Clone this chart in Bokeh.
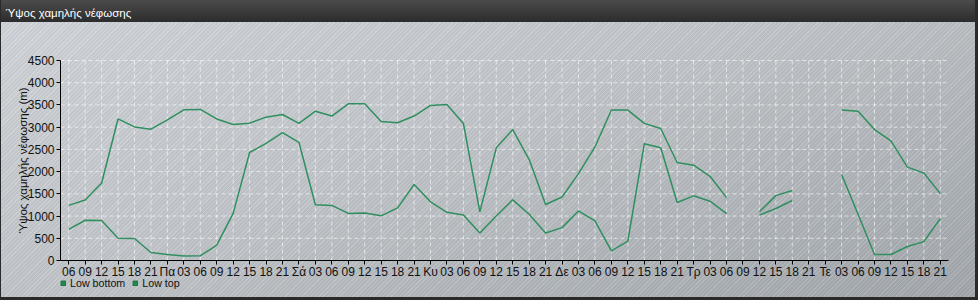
import numpy as np
from bokeh.plotting import figure
from bokeh.models import (FixedTicker, Legend, LegendItem, ColumnDataSource,
                          InlineStyleSheet, Label)
from bokeh.embed import file_html
from bokeh.resources import INLINE

# ---------------- data ----------------
tick_labels = ["06", "09", "12", "15", "18", "21",
               "Πα", "03", "06", "09", "12", "15", "18", "21",
               "Σά", "03", "06", "09", "12", "15", "18", "21",
               "Κυ", "03", "06", "09", "12", "15", "18", "21",
               "Δε", "03", "06", "09", "12", "15", "18", "21",
               "Τρ", "03", "06", "09", "12", "15", "18", "21",
               "Τε", "03", "06", "09", "12", "15", "18", "21"]

low_bottom = [700, 905, 900, 500, 495, 180, 135, 100, 105, 345,
              1060, 2430, 2635, 2875, 2660, 1255, 1240, 1060, 1070, 1005,
              1185, 1710, 1320, 1085, 1025, 620, 1000, 1365, 1040, 620,
              740, 1115, 890, 215, 435, 2625, 2535, 1305, 1455, 1335,
              1055, None, 1020, 1170, 1350, None, None, 1935, 1040, 135,
              135, 315, 425, 945]

low_top = [1240, 1360, 1745, 3185, 3005, 2955, 3165, 3390, 3400, 3185,
           3060, 3090, 3225, 3285, 3085, 3360, 3250, 3525, 3525, 3125,
           3100, 3250, 3490, 3510, 3085, 1095, 2535, 2945, 2270, 1260,
           1430, 1955, 2555, 3385, 3385, 3085, 2970, 2205, 2145, 1895,
           1415, None, 1095, 1460, 1575, None, None, 3385, 3360, 2945,
           2690, 2100, 1970, 1505]

y_ticks = [0, 500, 1000, 1500, 2000, 2500, 3000, 3500, 4000, 4500]
series_names = ["Low bottom", "Low top"]
title_text = "Ύψος χαμηλής νέφωσης"
y_label = "Ύψος χαμηλής νέφωσης (m)"

idx = list(range(len(tick_labels)))
bottom_arr = np.array([np.nan if v is None else v for v in low_bottom], dtype=float)
top_arr = np.array([np.nan if v is None else v for v in low_top], dtype=float)

# ---------------- layout constants (pixels) ----------------
W, H = 978, 300
PLOT_L, PLOT_R, PLOT_T, PLOT_B = 60, 948, 60, 260
X_LO, X_HI = -0.5, len(tick_labels) - 0.5
Y_LO, Y_HI = y_ticks[0], y_ticks[-1]
px_x = (PLOT_R - PLOT_L) / (X_HI - X_LO)
px_y = (PLOT_B - PLOT_T) / (Y_HI - Y_LO)
x_range = (X_LO - PLOT_L / px_x, X_HI + (W - PLOT_R) / px_x)
y_range = (Y_LO - (H - PLOT_B) / px_y, Y_HI + PLOT_T / px_y)

GREEN = "#2f8f5f"
SWATCH = "#1f8a4c"
FONT = "Liberation Sans"

p = figure(width=W, height=H, output_backend="svg", toolbar_location=None,
           x_range=x_range, y_range=y_range, min_border=0)
p.background_fill_alpha = 0
p.border_fill_alpha = 0
p.outline_line_color = None
p.grid.visible = False

css = """
:host {
  background:
    linear-gradient(to bottom, #4b4b4b 0px, #2c2c2c 22px, transparent 22px),
    repeating-linear-gradient(-45deg, rgba(255,255,255,0.08) 0px, rgba(255,255,255,0.08) 1px, rgba(0,0,0,0.04) 1px, rgba(0,0,0,0.04) 3px),
    linear-gradient(160deg, #d3d7db 0%, #c3c7cb 45%, #a3a8ad 100%);
  box-shadow: inset 1px 0 0 #2a2a2a, inset -3px 0 0 #2a2a2a, inset 0 -3px 0 #2a2a2a;
}
"""
p.stylesheets = [InlineStyleSheet(css=css)]

# ---------------- grid (dashed, limited to the plot area) ----------------
grid_v = ColumnDataSource(dict(x=idx, y0=[Y_LO] * len(idx), y1=[Y_HI] * len(idx)))
p.segment(x0="x", x1="x", y0="y0", y1="y1", source=grid_v,
          line_color="white", line_alpha=0.6, line_dash="4 3", line_width=1)
grid_h = ColumnDataSource(dict(y=y_ticks[1:], x0=[X_LO] * (len(y_ticks) - 1),
                               x1=[X_HI] * (len(y_ticks) - 1)))
p.segment(x0="x0", x1="x1", y0="y", y1="y", source=grid_h,
          line_color="white", line_alpha=0.6, line_dash="4 3", line_width=1)

# ---------------- series ----------------
src = ColumnDataSource(dict(x=idx, bottom=bottom_arr, top=top_arr))
p.line("x", "bottom", source=src, line_color=GREEN, line_width=1.5)
p.line("x", "top", source=src, line_color=GREEN, line_width=1.5)

# legend swatches (hidden renderers, only used for the legend)
r1 = p.vbar(x="x", top="bottom", width=0.5, source=src, fill_color=SWATCH,
            line_color="#16703c", visible=False)
r2 = p.vbar(x="x", top="top", width=0.5, source=src, fill_color=SWATCH,
            line_color="#16703c", visible=False)
legend = Legend(items=[LegendItem(label=series_names[0], renderers=[r1]),
                       LegendItem(label=series_names[1], renderers=[r2])],
                location=(PLOT_L, H - 290), orientation="horizontal",
                background_fill_alpha=0, border_line_color=None,
                inactive_fill_alpha=0,
                padding=0, margin=0, spacing=7,
                glyph_width=6, glyph_height=6, label_standoff=4,
                label_height=14, label_text_font=FONT,
                label_text_font_size="10.7px", label_text_color="#111111")
p.add_layout(legend, "center")

# ---------------- title ----------------
p.add_layout(Label(x=5, y=H - 12.5, x_units="screen", y_units="screen",
                   text=title_text, text_baseline="middle", text_align="left",
                   text_color="white", text_font=FONT, text_font_size="11.5px"))

# ---------------- axes ----------------
p.xaxis.fixed_location = Y_LO
p.yaxis.fixed_location = X_LO
p.xaxis.bounds = (X_LO, X_HI)
p.yaxis.bounds = (Y_LO, Y_HI)
p.xaxis.ticker = FixedTicker(ticks=idx)
p.xaxis.major_label_overrides = {i: lab for i, lab in enumerate(tick_labels)}
p.yaxis.ticker = FixedTicker(ticks=y_ticks)
p.yaxis.axis_label = y_label
for ax in (p.xaxis, p.yaxis):
    ax.axis_line_color = "black"
    ax.major_tick_line_color = "black"
    ax.minor_tick_line_color = None
    ax.major_tick_in = 0
    ax.major_tick_out = 4
    ax.major_label_text_font = FONT
    ax.major_label_text_font_size = "12px"
    ax.major_label_text_color = "#111111"
    ax.major_label_standoff = 2
p.xaxis.major_label_standoff = 0
p.yaxis.axis_label_text_font = FONT
p.yaxis.axis_label_text_font_size = "11.5px"
p.yaxis.axis_label_text_font_style = "normal"
p.yaxis.axis_label_text_color = "#111111"
p.yaxis.axis_label_standoff = -4

open("out.html", "w").write(file_html(p, INLINE))
